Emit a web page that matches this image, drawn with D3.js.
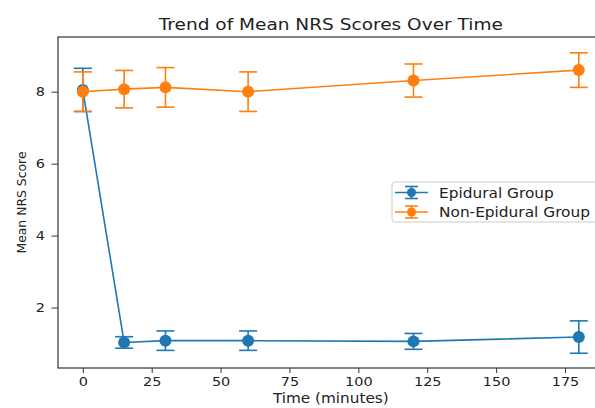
<!DOCTYPE html>
<html>
<head>
<meta charset="utf-8">
<script src="https://cdn.jsdelivr.net/npm/d3@7"></script>
<style>
  html, body { margin: 0; padding: 0; background: #fff; }
  svg { display: block; font-family: "DejaVu Sans", sans-serif; }
</style>
</head>
<body>
<div id="chart"></div>
<script>
// Time points (minutes)
const times = [0, 15, 30, 60, 120, 180];
// Epidural group mean NRS and error
const epiduralMean = [8.05, 1.03, 1.08, 1.08, 1.06, 1.18];
const epiduralErr = [0.6, 0.16, 0.27, 0.27, 0.22, 0.45];
// Non-epidural group mean NRS and error
const nonEpiduralMean = [8.0, 8.07, 8.12, 8.0, 8.31, 8.6];
const nonEpiduralErr = [0.55, 0.52, 0.55, 0.55, 0.46, 0.48];

const xTicks = [0, 25, 50, 75, 100, 125, 150, 175];
const yTicks = [2, 4, 6, 8];

const series = [
    { name: "Epidural Group", color: "#1f77b4", mean: epiduralMean, err: epiduralErr },
    { name: "Non-Epidural Group", color: "#ff7f0e", mean: nonEpiduralMean, err: nonEpiduralErr }
];

const W = 595, H = 408;
const plot = { left: 58, right: 603.6, top: 37, bottom: 368 };
// the picture is a bit wider than tall, so text gets stretched sideways
const SX = 1.13;

const svg = d3.select("#chart").append("svg")
    .attr("width", W).attr("height", H);

const x = d3.scaleLinear().domain([-9, 189]).range([plot.left, plot.right]);
const y = d3.scaleLinear().domain([0.32, 9.52]).range([plot.bottom, plot.top]);

// helper: stretched text at a point
function label(parent, px, py, txt, size, anchor) {
    return parent.append("g")
        .attr("transform", `translate(${px},${py}) scale(${SX},1)`)
        .append("text")
        .attr("text-anchor", anchor || "middle")
        .style("font-size", size + "px")
        .attr("fill", "#222")
        .text(txt);
}

// axes
const xAxis = svg.append("g")
    .attr("transform", `translate(0,${plot.bottom})`)
    .call(d3.axisBottom(x).tickValues(xTicks).tickSize(5).tickPadding(4).tickFormat(d3.format("d")));
const yAxis = svg.append("g")
    .attr("transform", `translate(${plot.left},0)`)
    .call(d3.axisLeft(y).tickValues(yTicks).tickSize(6.5).tickPadding(6).tickFormat(d3.format("d")));

[xAxis, yAxis].forEach(a => {
    a.select(".domain").remove();
    a.selectAll(".tick line").attr("stroke", "#333").attr("stroke-width", 1);
    a.selectAll(".tick text").attr("fill", "#222").style("font-size", "12.8px")
        .style("font-family", "DejaVu Sans, sans-serif");
});
xAxis.selectAll(".tick text").attr("transform", `scale(${SX},1)`);
yAxis.selectAll(".tick text").attr("x", -13 / SX).attr("transform", `scale(${SX},1)`);

// spines
svg.append("rect")
    .attr("x", plot.left).attr("y", plot.top)
    .attr("width", plot.right - plot.left).attr("height", plot.bottom - plot.top)
    .attr("fill", "none").attr("stroke", "#333").attr("stroke-width", 1.2);

// series
const line = d3.line().x((d, i) => x(times[i])).y(d => y(d));
const cap = 9;

series.forEach(s => {
    const g = svg.append("g");
    g.append("path")
        .datum(s.mean)
        .attr("d", line)
        .attr("fill", "none")
        .attr("stroke", s.color)
        .attr("stroke-width", 1.6);

    const eb = g.selectAll(".err").data(s.mean).enter().append("g");
    eb.append("line")
        .attr("x1", (d, i) => x(times[i])).attr("x2", (d, i) => x(times[i]))
        .attr("y1", (d, i) => y(d - s.err[i])).attr("y2", (d, i) => y(d + s.err[i]))
        .attr("stroke", s.color).attr("stroke-width", 1.6);
    [-1, 1].forEach(sign => {
        eb.append("line")
            .attr("x1", (d, i) => x(times[i]) - cap).attr("x2", (d, i) => x(times[i]) + cap)
            .attr("y1", (d, i) => y(d + sign * s.err[i])).attr("y2", (d, i) => y(d + sign * s.err[i]))
            .attr("stroke", s.color).attr("stroke-width", 1.6);
    });
    g.selectAll("circle").data(s.mean).enter().append("circle")
        .attr("cx", (d, i) => x(times[i]))
        .attr("cy", d => y(d))
        .attr("r", 6)
        .attr("fill", s.color);
});

// title and labels
label(svg, (plot.left + plot.right) / 2, 30, "Trend of Mean NRS Scores Over Time", 16.4);
label(svg, (plot.left + plot.right) / 2, 403, "Time (minutes)", 13.5);

svg.append("text")
    .attr("transform", `translate(26,${(plot.top + plot.bottom) / 2}) rotate(-90)`)
    .attr("text-anchor", "middle")
    .style("font-size", "12.4px").attr("fill", "#222")
    .text("Mean NRS Score");

// legend
const lg = svg.append("g").attr("transform", "translate(392,182)");
lg.append("rect")
    .attr("width", 215).attr("height", 40).attr("rx", 3)
    .attr("fill", "#fff").attr("fill-opacity", 0.8)
    .attr("stroke", "#ccc").attr("stroke-width", 1);

series.forEach((s, i) => {
    const row = lg.append("g").attr("transform", `translate(0,${10.5 + i * 19.5})`);
    row.append("line").attr("x1", 3).attr("x2", 36).attr("y1", 0).attr("y2", 0)
        .attr("stroke", s.color).attr("stroke-width", 1.6);
    row.append("line").attr("x1", 19.5).attr("x2", 19.5).attr("y1", -6).attr("y2", 6)
        .attr("stroke", s.color).attr("stroke-width", 1.6);
    [-6, 6].forEach(dy => row.append("line")
        .attr("x1", 13).attr("x2", 26).attr("y1", dy).attr("y2", dy)
        .attr("stroke", s.color).attr("stroke-width", 1.6));
    row.append("circle").attr("cx", 19.5).attr("cy", 0).attr("r", 4.5).attr("fill", s.color);
    label(row, 47, 5, s.name, 13.6, "start");
});
</script>
</body>
</html>
